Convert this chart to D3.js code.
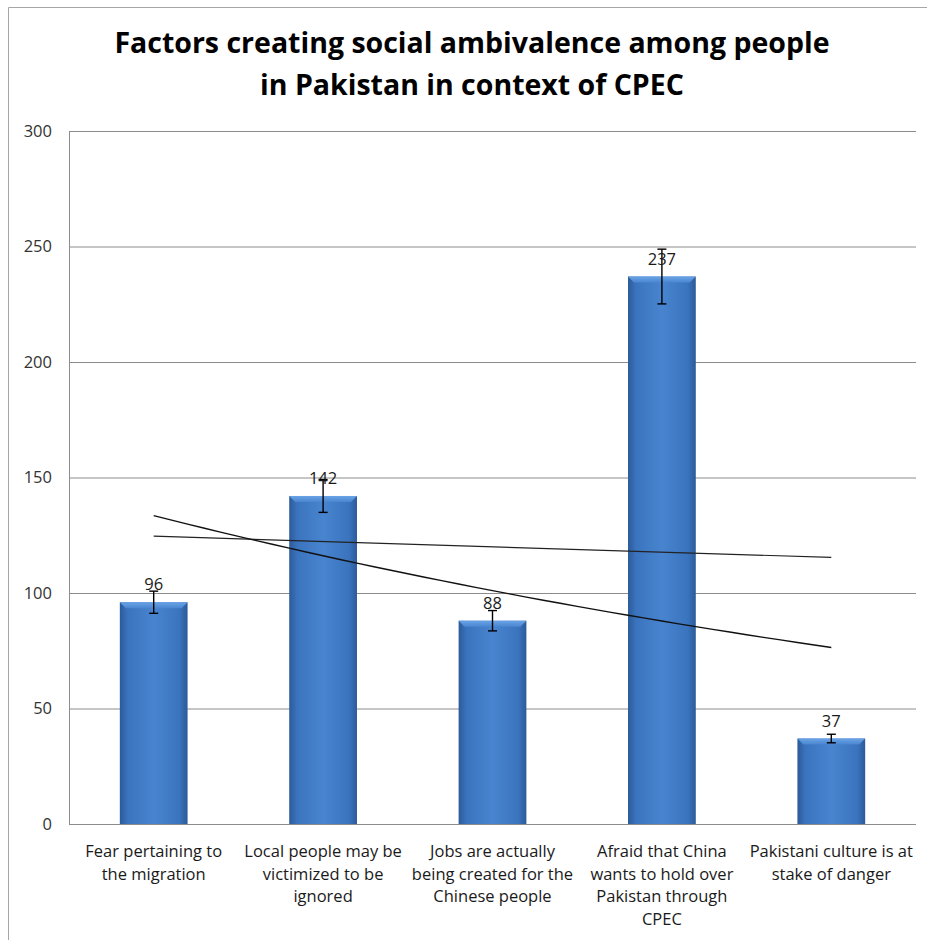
<!DOCTYPE html>
<html>
<head>
<meta charset="utf-8">
<script src="https://cdn.jsdelivr.net/npm/d3@7"></script>
<style>
  body { margin: 0; background: #fff; }
  svg { display: block; font-family: "Open Sans", sans-serif; }
</style>
</head>
<body>
<svg id="chart" width="927" height="940"></svg>
<script>
// data
const categories = [
  ["Fear pertaining to", "the migration"],
  ["Local people may be", "victimized to be", "ignored"],
  ["Jobs are actually", "being created for the", "Chinese people"],
  ["Afraid that China", "wants to hold over", "Pakistan through", "CPEC"],
  ["Pakistani culture is at", "stake of danger"]
];
const values = [96, 142, 88, 237, 37];
const yTicks = [0, 50, 100, 150, 200, 250, 300];
const titleLines = ["Factors creating social ambivalence among people", "in Pakistan in context of CPEC"];
const errorPct = 0.05;

const svg = d3.select("#chart");
const m = { left: 69, right: 916, top: 131, bottom: 824 };

const x = d3.scaleBand().domain(d3.range(values.length)).range([m.left, m.right]).paddingInner(0.6).paddingOuter(0.3);
const y = d3.scaleLinear().domain([0, 300]).range([m.bottom, m.top]);
const cx = i => x(i) + x.bandwidth() / 2;

// outer frame
svg.append("path").attr("d", "M8.5,940 V7.5 H927").attr("fill", "none").attr("stroke", "#a6a6a6");

// title
svg.append("g").selectAll("text").data(titleLines).enter().append("text")
  .attr("x", 472).attr("y", (d, i) => 53 + i * 42)
  .attr("text-anchor", "middle").attr("font-weight", "bold").attr("font-size", 28.5)
  .attr("fill", "#000").text(d => d);

// gridlines + axis
const yAxis = d3.axisLeft(y).tickValues(yTicks).tickSize(-(m.right - m.left)).tickPadding(17);
const ga = svg.append("g").attr("transform", `translate(${m.left},0)`).call(yAxis);
ga.select(".domain").attr("stroke", "#8c8c8c");
ga.selectAll(".tick line").attr("stroke", "#8c8c8c");
ga.selectAll(".tick text").attr("font-size", 16.5).attr("fill", "#333").attr("font-family", "Open Sans, sans-serif");

// bar gradient
const defs = svg.append("defs");
const grad = defs.append("linearGradient").attr("id", "barGrad").attr("x1", "0").attr("x2", "1").attr("y1", "0").attr("y2", "0");
[[0, "#2b5a99"], [0.12, "#3b74be"], [0.5, "#4884cf"], [0.88, "#3b74be"], [1, "#2b5a99"]]
  .forEach(s => grad.append("stop").attr("offset", s[0]).attr("stop-color", s[1]));
const bevGrad = defs.append("linearGradient").attr("id", "bevGrad").attr("x1", "0").attr("x2", "0").attr("y1", "0").attr("y2", "1");
[[0, "#6aa3e6"], [1, "#4a86d0"]]
  .forEach(s => bevGrad.append("stop").attr("offset", s[0]).attr("stop-color", s[1]));

const bars = svg.append("g").selectAll("g").data(values).enter().append("g");
bars.append("rect")
  .attr("x", (d, i) => x(i)).attr("y", d => y(d))
  .attr("width", x.bandwidth()).attr("height", d => y(0) - y(d))
  .attr("fill", "url(#barGrad)");
// bevel on top edge
const bv = 6;
bars.append("path")
  .attr("d", (d, i) => {
    const x0 = x(i), x1 = x(i) + x.bandwidth(), t = y(d);
    return `M${x0},${t} H${x1} L${x1 - bv},${t + bv} H${x0 + bv} Z`;
  })
  .attr("fill", "url(#bevGrad)");

// trend lines computed from the values
const xs = values.map((d, i) => i + 1);
const xm = d3.mean(xs);
const sxx = d3.sum(xs, v => (v - xm) ** 2);
const ym = d3.mean(values);
const slope = d3.sum(values, (d, i) => (xs[i] - xm) * (d - ym)) / sxx;
const lnm = d3.mean(values, d => Math.log(d));
const lnSlope = d3.sum(values, (d, i) => (xs[i] - xm) * (Math.log(d) - lnm)) / sxx;
const px = t => cx(0) + (t - 1) * (cx(1) - cx(0));

const linPts = [1, values.length].map(t => [px(t), y(ym + slope * (t - xm))]);
const expPts = d3.range(1, values.length + 0.001, 0.1).map(t => [px(t), y(Math.exp(lnm + lnSlope * (t - xm)))]);
const line = d3.line();
svg.append("path").attr("d", line(linPts)).attr("fill", "none").attr("stroke", "#222").attr("stroke-width", 1.2);
svg.append("path").attr("d", line(expPts)).attr("fill", "none").attr("stroke", "#111").attr("stroke-width", 1.4);

// error bars
const eb = svg.append("g").attr("stroke", "#000").attr("stroke-width", 1.4);
values.forEach((d, i) => {
  const e = d * errorPct, c = cx(i);
  eb.append("line").attr("x1", c).attr("x2", c).attr("y1", y(d + e)).attr("y2", y(d - e));
  eb.append("line").attr("x1", c - 4.5).attr("x2", c + 4.5).attr("y1", y(d + e)).attr("y2", y(d + e));
  eb.append("line").attr("x1", c - 4.5).attr("x2", c + 4.5).attr("y1", y(d - e)).attr("y2", y(d - e));
});

// data labels
svg.append("g").selectAll("text").data(values).enter().append("text")
  .attr("x", (d, i) => cx(i)).attr("y", d => y(d) - 12)
  .attr("text-anchor", "middle").attr("font-size", 16.5).attr("fill", "#1a1a1a")
  .text(d => d);

// category labels
const cl = svg.append("g").selectAll("text").data(categories).enter().append("text")
  .attr("text-anchor", "middle").attr("font-size", 16.5).attr("fill", "#1a1a1a");
cl.selectAll("tspan").data((d, i) => d.map(s => ({ s, i }))).enter().append("tspan")
  .attr("x", d => cx(d.i)).attr("y", (d, j) => 857 + j * 22.7)
  .text(d => d.s);
</script>
</body>
</html>
